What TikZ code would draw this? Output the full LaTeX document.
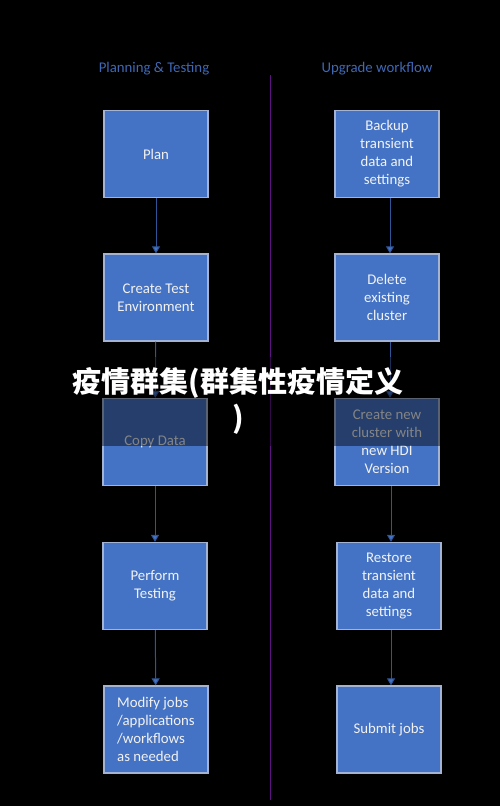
\documentclass[tikz,border=0pt]{standalone}
\usepackage{fontspec}
\setmainfont{Carlito}
\newfontfamily\cjk{Noto Sans CJK SC}
\usetikzlibrary{arrows.meta}
\definecolor{boxblue}{HTML}{4472C4}
\definecolor{boxedge}{HTML}{A3B3D3}
\definecolor{linkblue}{HTML}{2F5597}
\definecolor{headblue}{HTML}{3F68B5}
\definecolor{divpurple}{HTML}{5E1282}
\definecolor{txt}{HTML}{F2F2F2}
\begin{document}
\begin{tikzpicture}[x=1pt,y=-1pt,
  stepbox/.style={draw=boxedge,line width=1.3pt,fill=boxblue,minimum width=104pt,minimum height=87pt,
    text=txt,font=\fontsize{14.8}{18}\selectfont,align=center,inner sep=2pt},
  link/.style={draw=linkblue,line width=1pt,-{Triangle[width=8pt,length=7pt,fill=boxblue]}},
  head/.style={text=headblue,font=\fontsize{14.8}{17}\selectfont}]
\fill[black] (0,0) rectangle (500,806);
\useasboundingbox (0,0) rectangle (500,806);
\node[head] (h1) at (154,68.5) {Planning \& Testing};
\node[head] (h2) at (377,68.5) {Upgrade workflow};
\coordinate (d1) at (270.5,75);
\coordinate (d2) at (270.5,800);
\draw[divpurple,line width=1pt] (d1) -- (d2);
\node[stepbox] (p1) at (156,154) {Plan};
\node[stepbox] (p2) at (156,297.5) {Create Test\\Environment};
\node[stepbox] (p3) at (155,442) {Copy Data};
\node[stepbox] (p4) at (155,586) {Perform\\Testing};
\node[stepbox,align=left] (p5) at (156,729.5) {Modify jobs\\/applications\\/workflows\\as needed};
\node[stepbox] (u1) at (387,154) {Backup\\transient\\data and\\settings};
\node[stepbox] (u2) at (387,297.5) {Delete\\existing\\cluster};
\node[stepbox] (u3) at (387,442) {Create new\\cluster with\\new HDI\\Version};
\node[stepbox] (u4) at (389,586) {Restore\\transient\\data and\\settings};
\node[stepbox] (u5) at (389,729.5) {Submit jobs};
\draw[link] (p1) -- (p2);
\draw[link] (p2) -- (p3);
\draw[link] (p3) -- (p4);
\draw[link] (p4) -- (p5);
\draw[link] ([xshift=3pt]u1.south) -- ([xshift=3pt]u2.north);
\draw[link] ([xshift=3pt]u2.south) -- ([xshift=3pt]u3.north);
\draw[link] ([xshift=4pt]u3.south) -- ([xshift=2pt]u4.north);
\draw[link] ([xshift=2pt]u4.south) -- ([xshift=2pt]u5.north);
\fill[black,opacity=0.45] (0,357) rectangle (500,446);
\node[text=white,font=\cjk\bfseries\fontsize{29}{36}\selectfont,align=center] (title) at (238,401) {疫情群集(群集性疫情定义\\)};
\end{tikzpicture}
\end{document}
